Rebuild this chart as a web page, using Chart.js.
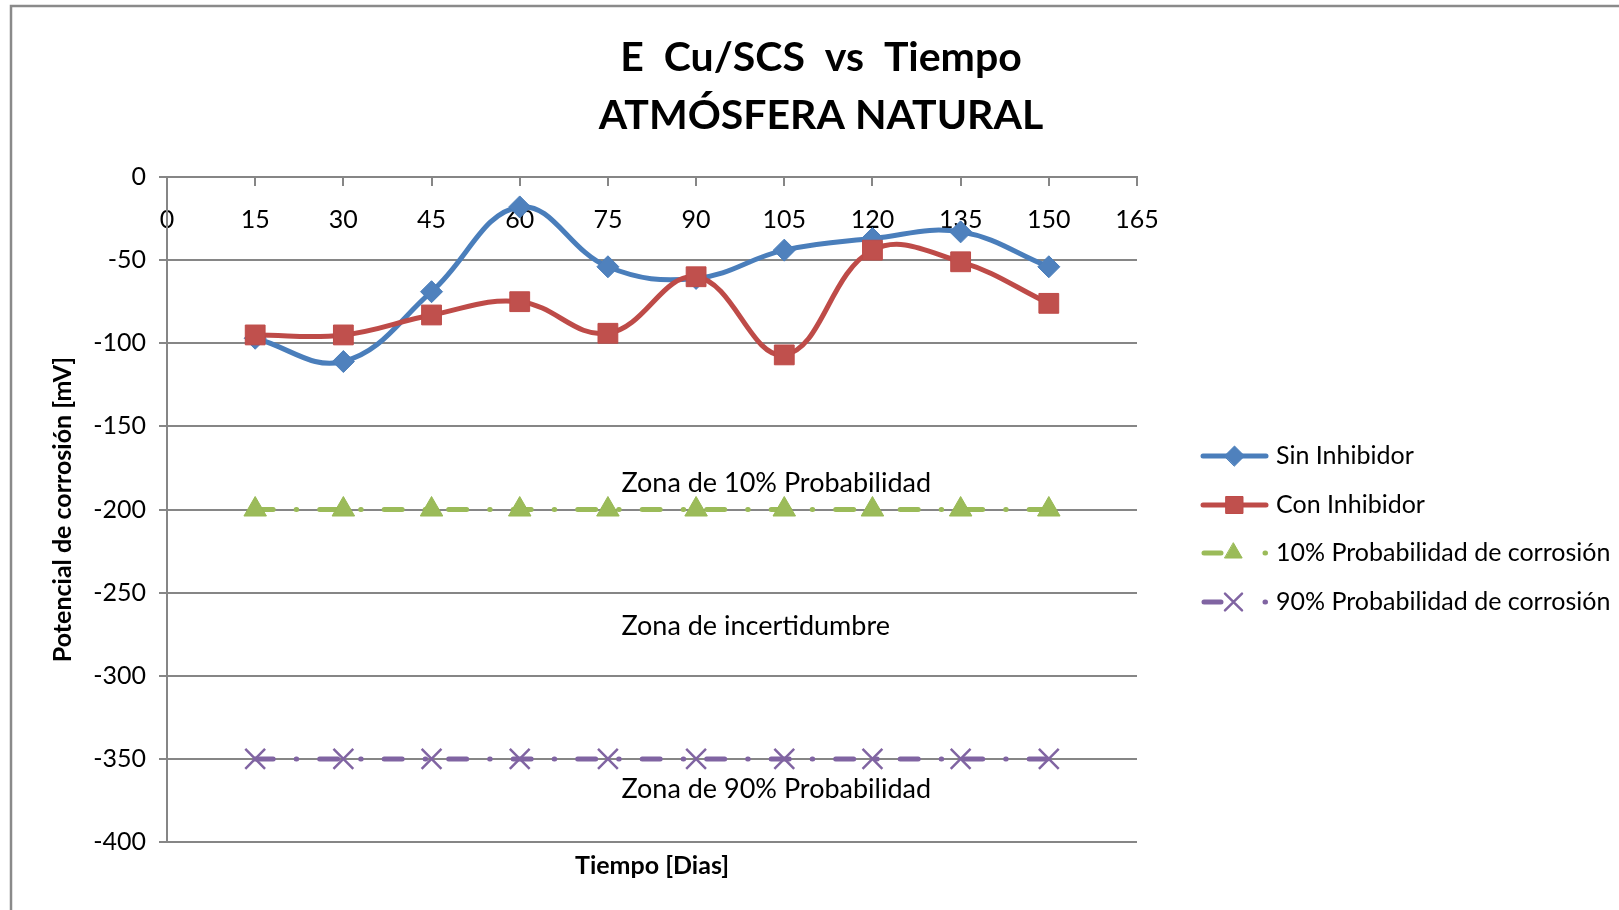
<!DOCTYPE html>
<html>
<head>
<meta charset="utf-8">
<script src="https://cdn.jsdelivr.net/npm/chart.js@4.4.1/dist/chart.umd.min.js"></script>
<style>
  html, body { margin: 0; padding: 0; background: #ffffff; }
  canvas { display: block; }
</style>
</head>
<body>
<canvas id="chart" width="1619" height="910"></canvas>
<script>
// Días de exposición y potenciales medidos (mV vs Cu/SCS)
const dias = [15, 30, 45, 60, 75, 90, 105, 120, 135, 150];
const sinInhibidor = [-97, -111, -69, -18, -54, -61, -44, -37, -33, -54];
const conInhibidor = [-95, -95, -83, -75, -94, -60, -107, -44, -51, -76];
const umbral10 = [-200, -200, -200, -200, -200, -200, -200, -200, -200, -200];
const umbral90 = [-350, -350, -350, -350, -350, -350, -350, -350, -350, -350];

const nombresSeries = ['Sin Inhibidor', 'Con Inhibidor', '10% Probabilidad de corrosión', '90% Probabilidad de corrosión'];
const titulo = ['E  Cu/SCS  vs  Tiempo', 'ATMÓSFERA NATURAL'];
const tituloX = 'Tiempo [Dias]';
const tituloY = 'Potencial de corrosión [mV]';
const zonas = ['Zona de 10% Probabilidad', 'Zona de incertidumbre', 'Zona de 90% Probabilidad'];
const zonasY = [-184, -270, -368];

const FONT = 'Lato, "Open Sans", sans-serif';
const GRID = '#868686';

function puntos(vals) { return dias.map((d, i) => ({ x: d, y: vals[i] })); }

const datasets = [
  {
    label: nombresSeries[0], data: puntos(sinInhibidor),
    borderColor: '#4A7EBB', backgroundColor: '#4A7EBB', borderWidth: 5,
    pointStyle: 'rectRot', pointRadius: 11, pointBorderWidth: 1,
    pointBackgroundColor: '#4F81BD', pointBorderColor: '#4A7EBB',
    tension: 0.4, order: 3
  },
  {
    label: nombresSeries[1], data: puntos(conInhibidor),
    borderColor: '#BE4B48', backgroundColor: '#BE4B48', borderWidth: 5,
    pointStyle: 'rect', pointRadius: 14, pointBorderWidth: 1,
    pointBackgroundColor: '#C0504D', pointBorderColor: '#BE4B48',
    tension: 0.4, order: 2
  },
  {
    label: nombresSeries[2], data: puntos(umbral10),
    borderColor: '#9BBB59', backgroundColor: '#9BBB59', borderWidth: 5,
    borderDash: [18, 23, 0.5, 23], borderCapStyle: 'round',
    pointStyle: 'triangle', pointRadius: 13, pointBorderWidth: 1,
    pointBackgroundColor: '#9BBB59', pointBorderColor: '#98B954',
    tension: 0, order: 1
  },
  {
    label: nombresSeries[3], data: puntos(umbral90),
    borderColor: '#8064A2', backgroundColor: '#8064A2', borderWidth: 5,
    borderDash: [18, 23, 0.5, 23], borderCapStyle: 'round',
    pointStyle: 'crossRot', pointRadius: 14, pointBorderWidth: 2.5,
    pointBackgroundColor: '#8064A2', pointBorderColor: '#8064A2',
    tension: 0, order: 0
  }
];

// Marco del área del gráfico, títulos, leyenda y rótulos de zona
const decoracion = {
  id: 'decoracion',
  beforeDraw(chart) {
    const ctx = chart.ctx;
    ctx.save();
    ctx.fillStyle = '#ffffff';
    ctx.fillRect(0, 0, chart.width, chart.height);
    ctx.strokeStyle = '#8a8a8a';
    ctx.lineWidth = 2.5;
    ctx.beginPath();
    ctx.moveTo(11, chart.height);
    ctx.lineTo(11, 6);
    ctx.lineTo(chart.width, 6);
    ctx.stroke();
    ctx.restore();
  },
  afterDatasetsDraw(chart) {
    const ctx = chart.ctx;
    const xs = chart.scales.x, ys = chart.scales.y;
    ctx.save();
    ctx.fillStyle = '#000000';
    ctx.font = '27px ' + FONT;
    ctx.textAlign = 'left';
    ctx.textBaseline = 'middle';
    zonas.forEach((t, i) => ctx.fillText(t, xs.getPixelForValue(77.3), ys.getPixelForValue(zonasY[i])));
    ctx.restore();
  },
  afterDraw(chart) {
    const ctx = chart.ctx;
    const area = chart.chartArea;
    ctx.save();
    ctx.fillStyle = '#000000';
    ctx.textAlign = 'center';
    ctx.textBaseline = 'middle';
    ctx.font = 'bold 41px ' + FONT;
    ctx.fillText(titulo[0], 821, 58);
    ctx.fillText(titulo[1], 821, 116);
    ctx.font = 'bold 25px ' + FONT;
    ctx.fillText(tituloX, (area.left + area.right) / 2, 866);

    // Leyenda
    const x0 = 1201, x1 = 1268, xt = 1276;
    const ys0 = [456, 505, 553, 602];
    chart.data.datasets.forEach((ds, i) => {
      const y = ys0[i];
      ctx.save();
      ctx.strokeStyle = ds.borderColor;
      ctx.lineWidth = ds.borderWidth;
      ctx.lineCap = 'round';
      ctx.beginPath();
      if (ds.borderDash) {
        // trazo, marcador y punto final del patrón discontinuo
        ctx.moveTo(x0 + 3, y);
        ctx.lineTo(x0 + 20, y);
        ctx.moveTo(x1 - 3, y);
        ctx.lineTo(x1 - 2.5, y);
      } else {
        ctx.moveTo(x0 + 2, y);
        ctx.lineTo(x1 - 2, y);
      }
      ctx.stroke();
      ctx.fillStyle = ds.pointBackgroundColor;
      ctx.strokeStyle = ds.pointBorderColor;
      ctx.lineWidth = ds.pointBorderWidth;
      const r = ds.pointStyle === 'rect' ? 12 : (ds.pointStyle === 'crossRot' ? 12 : 10);
      Chart.helpers.drawPoint(ctx, { pointStyle: ds.pointStyle, radius: r, borderWidth: ds.pointBorderWidth, rotation: 0 }, (x0 + x1) / 2 - (ds.borderDash ? 1 : 0), y);
      ctx.restore();
      ctx.fillStyle = '#000000';
      ctx.textAlign = 'left';
      ctx.font = '25px ' + FONT;
      ctx.fillText(ds.label, xt, y);
    });
    ctx.restore();
  }
};

new Chart(document.getElementById('chart'), {
  type: 'line',
  data: { datasets },
  plugins: [decoracion],
  options: {
    responsive: false,
    animation: false,
    devicePixelRatio: 1,
    layout: { padding: { left: 48, right: 482, top: 177, bottom: 68 } },
    plugins: { legend: { display: false }, title: { display: false }, tooltip: { enabled: false } },
    elements: { line: { fill: false } },
    scales: {
      x: {
        type: 'linear', min: 0, max: 165,
        position: { y: 0 },
        ticks: { stepSize: 15, color: '#000000', font: { family: FONT, size: 25 }, padding: 20, maxRotation: 0 },
        grid: { drawOnChartArea: false, drawTicks: true, tickLength: 8, color: GRID, lineWidth: 2 },
        border: { color: GRID, width: 2 }
      },
      y: {
        type: 'linear', min: -400, max: 0,
        ticks: { stepSize: 50, color: '#000000', font: { family: FONT, size: 25 }, padding: 13 },
        grid: { color: GRID, lineWidth: 2, tickLength: 8 },
        border: { color: GRID, width: 2 },
        title: { display: true, text: tituloY, color: '#000000', font: { family: FONT, size: 25, weight: 'bold' }, padding: { top: 0, bottom: 0 } },
        afterFit(scale) { scale.width = 119; }
      }
    }
  }
});
</script>
</body>
</html>
